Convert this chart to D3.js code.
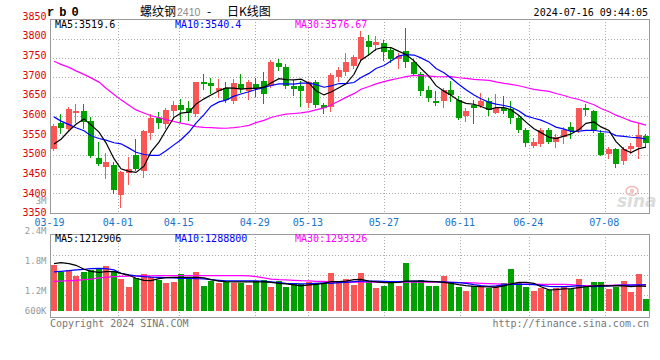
<!DOCTYPE html>
<html><head><meta charset="utf-8">
<script src="https://cdn.jsdelivr.net/npm/d3@7"></script>
<style>
body{margin:0;background:#fff;}
svg{display:block;}
text{font-family:"DejaVu Sans Mono",monospace;font-size:10px;}
</style></head><body>
<svg id="c" width="660" height="360"></svg>
<script>
const dates = ["03-19","03-20","03-21","03-22","03-25","03-26","03-27","03-28","03-29",
"04-01","04-02","04-03","04-08","04-09","04-10","04-11","04-12","04-15","04-16","04-17","04-18","04-19","04-22","04-23","04-24","04-25","04-26","04-29","04-30",
"05-06","05-07","05-08","05-09","05-10","05-13","05-14","05-15","05-16","05-17","05-20","05-21","05-22","05-23","05-24","05-27","05-28","05-29","05-30","05-31",
"06-03","06-04","06-05","06-06","06-07","06-11","06-12","06-13","06-14","06-17","06-18","06-19","06-20","06-21","06-24","06-25","06-26","06-27","06-28",
"07-01","07-02","07-03","07-04","07-05","07-08","07-09","07-10","07-11","07-12","07-15","07-16"];

const openP = [3516,3581,3567,3609,3613,3588,3492,3469,3473,3396,
3454,3499,3459,3557,3596,3580,3613,3629,3620,3606,
3689,3685,3666,3673,3638,3683,3665,3683,3691,3677,
3737,3727,3679,3678,3635,3689,3628,3623,3702,3713,
3730,3747,3795,3783,3789,3772,3747,3769,3739,3709,
3668,3639,3638,3668,3642,3599,3629,3626,3639,3609,
3620,3618,3594,3563,3523,3528,3564,3534,3547,3573,
3564,3620,3612,3557,3502,3514,3485,3514,3521,3549];
const highP = [3579,3606,3623,3631,3631,3597,3534,3504,3480,3458,
3495,3541,3563,3606,3611,3620,3640,3645,3638,3689,
3709,3698,3696,3689,3696,3709,3694,3698,3715,3746,
3748,3735,3694,3692,3692,3694,3633,3711,3727,3763,
3757,3819,3810,3808,3797,3776,3763,3828,3747,3715,
3678,3665,3672,3691,3652,3620,3642,3661,3646,3658,
3651,3639,3599,3569,3543,3569,3569,3554,3573,3586,
3621,3632,3616,3564,3521,3517,3521,3530,3582,3554];
const lowP = [3512,3557,3564,3585,3570,3495,3473,3439,3400,3366,
3424,3460,3443,3540,3569,3568,3597,3586,3590,3600,
3670,3661,3649,3637,3633,3663,3645,3652,3635,3675,
3720,3672,3655,3626,3623,3623,3607,3614,3691,3707,
3724,3746,3759,3772,3746,3741,3724,3728,3707,3655,
3639,3629,3623,3640,3592,3588,3583,3623,3603,3607,
3607,3582,3560,3523,3519,3523,3530,3521,3531,3543,
3560,3603,3560,3499,3491,3469,3476,3504,3491,3523];
const closeP = [3575,3570,3619,3614,3586,3497,3476,3481,3409,3456,
3463,3462,3562,3594,3583,3616,3629,3616,3607,3687,
3684,3678,3673,3642,3685,3670,3689,3674,3656,3740,
3726,3677,3670,3664,3689,3629,3622,3707,3720,3739,
3753,3804,3778,3791,3765,3747,3756,3739,3708,3666,
3648,3633,3668,3655,3596,3612,3622,3639,3616,3620,
3614,3594,3563,3531,3534,3564,3534,3545,3564,3562,
3620,3615,3564,3499,3515,3476,3514,3523,3551,3531];

const ma5 = [3528,3540,3562,3579,3592.8,3577.2,3558.4,3530.8,3489.8,3463.8,
3457.0,3454.2,3470.4,3507.4,3532.8,3563.4,3596.8,3607.6,3610.2,3631.0,
3644.6,3654.4,3665.8,3672.8,3672.4,3669.6,3671.8,3672.0,3674.8,3685.8,
3697.0,3694.6,3693.8,3695.4,3685.2,3665.8,3654.8,3662.2,3673.4,3683.4,
3708.2,3744.6,3758.8,3773.0,3778.2,3777.0,3767.4,3759.6,3743.0,3723.2,
3703.4,3678.8,3664.6,3654.0,3640.0,3632.8,3630.6,3624.8,3617.0,3621.8,
3622.2,3616.6,3601.4,3584.4,3567.2,3557.2,3545.2,3541.6,3548.2,3553.8,
3565.0,3581.2,3585.0,3572.0,3562.6,3533.8,3513.6,3505.4,3515.8,3519.6];
const ma10 = [3598,3587,3578,3570,3562,3549,3542,3538,3531,3528.3,
3517.1,3506.3,3500.6,3498.6,3498.3,3510.2,3525.5,3539.0,3558.8,3581.9,
3604.0,3625.6,3636.7,3641.5,3651.7,3657.1,3663.1,3668.9,3673.8,3679.1,
3683.3,3683.2,3682.9,3685.1,3685.5,3681.4,3674.7,3678.0,3684.4,3684.3,
3687.0,3699.7,3710.5,3723.2,3730.8,3742.6,3756.0,3759.2,3758.0,3750.7,
3740.2,3723.1,3712.1,3698.5,3681.6,3668.1,3654.7,3644.7,3635.5,3630.9,
3627.5,3623.6,3613.1,3600.7,3594.5,3589.7,3580.9,3571.5,3566.3,3560.5,
3561.1,3563.2,3563.3,3560.1,3558.2,3549.4,3547.4,3545.2,3543.9,3540.4];
const ma30 = [3742,3734,3726,3717,3708,3699,3688,3672,3656,3642,
3628,3616,3608,3601,3596,3591,3586,3582,3578,3573,
3571,3570,3569,3568.5,3570,3572.5,3576,3583,3589,3596.4,
3601.5,3605.0,3606.7,3608.4,3611.8,3616.2,3621.1,3628.6,3639.0,3648.4,
3658.1,3669.5,3676.7,3683.3,3689.3,3693.7,3697.9,3702.0,3705.4,3704.7,
3703.5,3702.0,3701.8,3702.3,3699.3,3697.4,3695.1,3694.0,3692.6,3688.6,
3684.9,3682.1,3678.6,3674.1,3669.0,3666.8,3663.9,3658.5,3653.3,3647.4,
3642.9,3636.6,3629.5,3619.8,3611.4,3602.4,3594.3,3587.1,3581.9,3576.67];

const volume = [2280000,1950000,2030000,1750000,1920000,2030000,2120000,2230000,1980000,1600000,
1200000,1620000,1850000,1700000,1530000,1400000,1450000,1850000,1600000,1950000,
1250000,1500000,1400000,1450000,1400000,1400000,1300000,1500000,1550000,1200000,
1500000,1200000,1400000,1350000,1450000,1400000,1400000,1900000,1480000,1580000,
1280000,1900000,1450000,1130000,1250000,1370000,1250000,2400000,1480000,1530000,
1250000,1250000,1750000,1370000,1200000,1000000,1250000,1250000,1120000,1250000,
1370000,2100000,1370000,1200000,1000000,1130000,1050000,1130000,1200000,1080000,
1580000,1200000,1450000,1450000,1080000,1200000,1480000,950000,1830000,580000];
const volMa5 = [2350000,2400000,2350000,2270000,2070000,1970000,1920000,1950000,1950000,1870000,
1770000,1620000,1520000,1500000,1600000,1650000,1670000,1670000,1670000,1670000,
1640000,1550000,1480000,1450000,1440000,1440000,1440000,1440000,1440000,1420000,
1370000,1340000,1290000,1240000,1290000,1320000,1370000,1450000,1450000,1480000,
1550000,1570000,1480000,1440000,1400000,1400000,1420000,1480000,1480000,1480000,
1450000,1450000,1420000,1370000,1300000,1250000,1220000,1200000,1190000,1170000,
1240000,1340000,1420000,1420000,1370000,1200000,1040000,1050000,1090000,1100000,
1150000,1200000,1240000,1250000,1240000,1250000,1240000,1200000,1240000,1212906];
const volMa10 = [1940000,1970000,2000000,2040000,2070000,2100000,2120000,2100000,2040000,1870000,
1790000,1740000,1700000,1680000,1670000,1650000,1640000,1620000,1620000,1600000,
1590000,1550000,1520000,1490000,1490000,1490000,1490000,1490000,1470000,1440000,
1400000,1370000,1350000,1340000,1350000,1370000,1390000,1370000,1400000,1420000,
1450000,1480000,1480000,1480000,1470000,1450000,1450000,1470000,1480000,1480000,
1470000,1450000,1440000,1420000,1400000,1370000,1300000,1250000,1220000,1240000,
1290000,1320000,1320000,1320000,1300000,1270000,1220000,1200000,1200000,1220000,
1250000,1220000,1200000,1220000,1240000,1270000,1280000,1280000,1290000,1288800];
const volMa30 = [1470000,1480000,1500000,1520000,1550000,1580000,1640000,1670000,1700000,1720000,
1730000,1740000,1740000,1740000,1750000,1750000,1750000,1750000,1750000,1750000,
1750000,1750000,1750000,1750000,1750000,1750000,1740000,1700000,1640000,1580000,
1550000,1540000,1520000,1500000,1490000,1470000,1470000,1430000,1430000,1430000,
1430000,1430000,1430000,1430000,1430000,1430000,1430000,1430000,1430000,1430000,
1430000,1430000,1430000,1420000,1400000,1400000,1390000,1370000,1350000,1340000,
1330000,1330000,1330000,1330000,1330000,1320000,1320000,1320000,1320000,1300000,
1270000,1260000,1260000,1270000,1270000,1280000,1280000,1290000,1290000,1293326];

const priceTicks = [3350,3400,3450,3500,3550,3600,3650,3700,3750,3800,3850];
const gridPrices = [3400,3450,3500,3550,3600,3650,3700,3750,3800];
const dateTicks = ["03-19","04-01","04-15","04-29","05-13","05-27","06-11","06-24","07-08"];
const volTicks = [600000,1200000,1800000,2400000,3000000];
const volTickLabels = ["600K","1.2M","1.8M","2.4M","3M"];
const symbolText = "rb0";
const titleName = "螺纹钢", titleCode = "2410", titleKind = "日K线图";
const stamp = "2024-07-16 09:44:05";

const UP = "#fa5656", DOWN = "#00a000";
const svg = d3.select("#c");
const L = 50, R = 649, T = 19, B = 213, VT = 234, VB = 317;

const x = d3.scaleBand().domain(dates).range([50, 650]);
const bx = d => Math.round(x(d) + 0.7);
const gx = d3.scaleLinear().domain([0, dates.length]).range([50, 658]);
const py = d3.scaleLinear().domain([3350, 3850]).range([212.7, 19.5]);
const pyLab = d3.scaleLinear().domain([3350, 3850]).range([212.3, 15.8]);
const vy = d3.scaleLinear().domain([0, 3800000]).range([310.7, 234.7]);
const vyLab = d3.scaleLinear().domain([800000, 3000000]).range([310.3, 200.3]).clamp(true);
const vGrid = d3.scaleLinear().domain([0, 4]).range([235, 315]);

const grid = svg.append("g").attr("stroke", "#aaa").attr("stroke-dasharray", "1,2").attr("stroke-width", 1);
gridPrices.forEach(v => {
  const yy = Math.round(py(v)) + 0.5;
  grid.append("line").attr("x1", L).attr("x2", R).attr("y1", yy).attr("y2", yy);
});
[1, 2, 3].forEach(k => {
  const yy = Math.round(vGrid(k)) + 0.5;
  grid.append("line").attr("x1", L).attr("x2", R).attr("y1", yy).attr("y2", yy);
});
dateTicks.forEach(t => {
  const xx = Math.round(gx(dates.indexOf(t))) + 0.5;
  if (xx <= L + 1) return;
  grid.append("line").attr("x1", xx).attr("x2", xx).attr("y1", T).attr("y2", B);
  grid.append("line").attr("x1", xx).attr("x2", xx).attr("y1", VT).attr("y2", VB);
});

// watermark
const wm = svg.append("g");
wm.append("ellipse").attr("cx", 632).attr("cy", 191).attr("rx", 6).attr("ry", 4.5).attr("fill", "none").attr("stroke", "#f3bcbc").attr("stroke-width", 1.5);
wm.append("circle").attr("cx", 632).attr("cy", 191).attr("r", 2.2).attr("fill", "#f3c4c4");
wm.append("text").attr("x", 617).attr("y", 207).text("sina")
  .style("font-family", "DejaVu Sans").style("font-size", "17px").style("font-weight", "bold").style("font-style", "italic").attr("fill", "#dcdcdc");

// candles
const idx = d3.range(dates.length);
const cg = svg.append("g");
idx.forEach(i => {
  const up = closeP[i] >= openP[i];
  const col = up ? UP : DOWN;
  const xx = bx(dates[i]);
  cg.append("line").attr("x1", xx + 2.5).attr("x2", xx + 2.5)
    .attr("y1", Math.round(py(highP[i]))).attr("y2", Math.round(py(lowP[i])) + 1)
    .attr("stroke", col).attr("stroke-width", 1);
  const y1 = Math.round(py(Math.max(openP[i], closeP[i])));
  const y2 = Math.round(py(Math.min(openP[i], closeP[i])));
  cg.append("rect").attr("x", xx).attr("y", y1).attr("width", 6).attr("height", Math.max(1, y2 - y1)).attr("fill", col);
});

const lineP = d3.line().x((d, i) => bx(dates[i]) + 3).y(d => py(d));
[[ma30, "#ff00ff"], [ma10, "#0000ff"], [ma5, "#000"]].forEach(([arr, c]) => {
  svg.append("path").attr("d", lineP(arr)).attr("fill", "none").attr("stroke", c).attr("stroke-width", 1.2);
});

// volume bars
const vg = svg.append("g");
idx.forEach(i => {
  const up = closeP[i] >= openP[i];
  const xx = bx(dates[i]);
  const yv = Math.round(vy(volume[i]));
  vg.append("rect").attr("x", xx).attr("y", yv).attr("width", 6).attr("height", Math.round(vy(0)) - yv).attr("fill", up ? UP : DOWN);
});
const lineV = d3.line().x((d, i) => bx(dates[i]) + 3).y(d => vy(d));
[[volMa30, "#ff00ff"], [volMa10, "#0000ff"], [volMa5, "#000"]].forEach(([arr, c]) => {
  svg.append("path").attr("d", lineV(arr)).attr("fill", "none").attr("stroke", c).attr("stroke-width", 1.2);
});

// frames
svg.append("rect").attr("x", L + 0.5).attr("y", T + 0.5).attr("width", R - L).attr("height", B - T).attr("fill", "none").attr("stroke", "#999");
svg.append("rect").attr("x", L + 0.5).attr("y", VT + 0.5).attr("width", R - L).attr("height", VB - VT).attr("fill", "none").attr("stroke", "#999");

// axes
const yAx = svg.append("g").attr("transform", "translate(46.5,0)")
  .call(d3.axisLeft(pyLab).tickValues(priceTicks).tickSize(0).tickPadding(0).tickFormat(d3.format("d")));
yAx.select(".domain").remove();
yAx.selectAll("text").attr("fill", "#e00000").style("font-family", "DejaVu Sans Mono").style("font-size", "10px").attr("dy", "0.35em");

const vAx = svg.append("g").attr("transform", "translate(46.5,0)")
  .call(d3.axisLeft(vyLab).tickValues(volTicks).tickSize(0).tickPadding(0).tickFormat((d, i) => volTickLabels[i]));
vAx.select(".domain").remove();
vAx.selectAll("text").attr("fill", "#999").style("font-family", "DejaVu Sans Mono").style("font-size", "9px").attr("dy", "0.35em");

const xAx = svg.append("g").attr("transform", "translate(-1,222)")
  .call(d3.axisBottom(gx).tickValues(dateTicks.map(t => dates.indexOf(t))).tickSize(0).tickPadding(0).tickFormat(i => dates[i]));
xAx.select(".domain").remove();
xAx.selectAll("text").attr("fill", "#1a74c8").style("font-family", "DejaVu Sans Mono").style("font-size", "10px").attr("y", 0).attr("dy", "0.35em");

// header
svg.append("text").attr("x", 47).attr("y", 16).text(symbolText)
  .style("font-family", "Liberation Mono").style("font-size", "12px").style("font-weight", "bold").style("letter-spacing", "5px");
svg.append("text").attr("x", 140).attr("y", 15.5).text(titleName).style("font-family", "Noto Sans CJK SC").style("font-size", "12px");
svg.append("text").attr("x", 177).attr("y", 15.5).text(titleCode).style("font-family", "Liberation Sans").style("font-size", "10.5px").attr("fill", "#888");
svg.append("text").attr("x", 207).attr("y", 15.5).text("-").style("font-family", "Noto Sans CJK SC").style("font-size", "12px");
svg.append("text").attr("x", 227).attr("y", 15.5).text(titleKind).style("font-family", "Noto Sans CJK SC").style("font-size", "12px");
svg.append("text").attr("x", 648).attr("y", 15.5).attr("text-anchor", "end").text(stamp);

const last = a => a[a.length - 1];
svg.append("text").attr("x", 55).attr("y", 27.5).text("MA5:" + last(ma5)).attr("fill", "#000");
svg.append("text").attr("x", 175).attr("y", 27.5).text("MA10:" + last(ma10)).attr("fill", "#0000ff");
svg.append("text").attr("x", 295).attr("y", 27.5).text("MA30:" + last(ma30)).attr("fill", "#ff00ff");
svg.append("text").attr("x", 55).attr("y", 242).text("MA5:" + last(volMa5)).attr("fill", "#000");
svg.append("text").attr("x", 175).attr("y", 242).text("MA10:" + last(volMa10)).attr("fill", "#0000ff");
svg.append("text").attr("x", 295).attr("y", 242).text("MA30:" + last(volMa30)).attr("fill", "#ff00ff");

svg.append("text").attr("x", 50).attr("y", 327).text("Copyright 2024 SINA.COM").attr("fill", "#777");
svg.append("text").attr("x", 649).attr("y", 327).attr("text-anchor", "end").text("http://finance.sina.com.cn").attr("fill", "#777");
</script>
</body></html>
